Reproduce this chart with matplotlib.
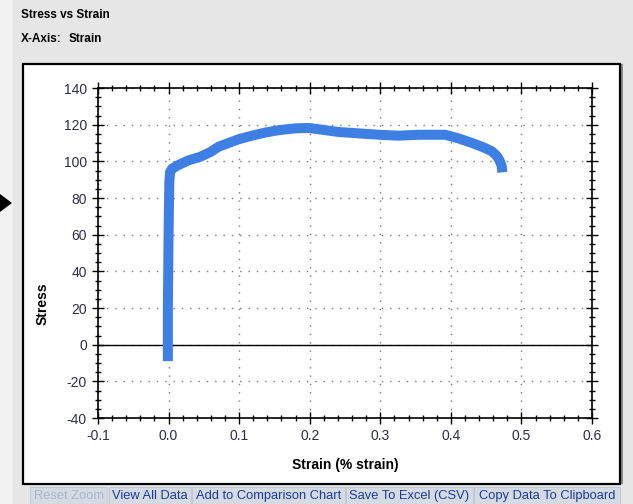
import matplotlib
matplotlib.use("Agg")
import matplotlib.pyplot as plt
from matplotlib.patches import Rectangle, Polygon
from matplotlib.ticker import MultipleLocator, FormatStrFormatter

plt.rcParams['font.family'] = ['Liberation Sans', 'DejaVu Sans']
plt.rcParams['axes.unicode_minus'] = False

# ---- data ----
strain = [-0.001, -0.001, 0.000, 0.001, 0.002, 0.005, 0.014, 0.028, 0.045, 0.059,
          0.071, 0.085, 0.099, 0.118, 0.137, 0.156, 0.180, 0.199, 0.222, 0.241,
          0.260, 0.298, 0.326, 0.355, 0.392, 0.411, 0.430, 0.447, 0.458, 0.465,
          0.469, 0.472, 0.473]
stress = [-9, 20, 60, 88, 94, 96, 98, 100.5, 102.5, 105,
          108, 110, 112, 114, 115.7, 117, 118, 118.2, 117, 116,
          115.5, 114.5, 114, 114.5, 114.5, 112.5, 110, 107.5, 105.5, 103,
          100.5, 97.5, 94]
x_ticks = [-0.1, 0.0, 0.1, 0.2, 0.3, 0.4, 0.5, 0.6]
y_ticks = [-40, -20, 0, 20, 40, 60, 80, 100, 120, 140]
buttons = ["Reset Zoom", "View All Data", "Add to Comparison Chart",
           "Save To Excel (CSV)", "Copy Data To Clipboard"]
button_x = [(30, 107), (109, 191), (192, 345), (346, 473), (474, 620)]

W, H = 633, 504
fig = plt.figure(figsize=(W / 100, H / 100), dpi=100)
fig.patch.set_facecolor('#f2f2f2')

def fx(px):
    return px / W

def fy(py):
    return 1 - py / H

# gray page background
fig.patches.append(Rectangle((fx(13), 0), 1 - fx(13), 1, transform=fig.transFigure,
                             facecolor='#e6e6e6', edgecolor='none', zorder=-10))
# white panel with border
fig.patches.append(Rectangle((fx(620), fy(484)), fx(3), fy(64) - fy(484), transform=fig.transFigure,
                             facecolor='#8a8a8a', edgecolor='none', zorder=-9))
fig.patches.append(Rectangle((fx(23), fy(484)), fx(597), fy(64) - fy(484), transform=fig.transFigure,
                             facecolor='white', edgecolor='black', linewidth=1.6, zorder=-8))
# arrow marker at left
fig.patches.append(Polygon([(fx(0), fy(194)), (fx(12), fy(203)), (fx(0), fy(212))],
                           closed=True, transform=fig.transFigure, facecolor='black',
                           edgecolor='none'))

# header texts
fig.text(fx(21), fy(15), "Stress vs Strain", fontsize=8.5, fontweight='bold',
         va='center', ha='left', color='black')
fig.text(fx(21), fy(39), "X-Axis:", fontsize=8.5, fontweight='bold',
         va='center', ha='left', color='black')
fig.text(fx(69), fy(39), "Strain", fontsize=8.5, fontweight='bold',
         va='center', ha='left', color='black')

# buttons
for i, (label, (x0, x1)) in enumerate(zip(buttons, button_x)):
    fig.patches.append(Rectangle((fx(x0), fy(504)), fx(x1 - x0), fy(487) - fy(504),
                                 transform=fig.transFigure, facecolor='#d5dbe3',
                                 edgecolor='#c3c9d2', linewidth=0.8))
    col = '#aab5cc' if i == 0 else '#1c3a9e'
    fig.text(fx((x0 + x1) / 2), fy(496), label, fontsize=9.3, color=col,
             ha='center', va='center')

# axes
ax = fig.add_axes([fx(98), fy(418), fx(592) - fx(98), fy(88) - fy(418)])
ax.set_facecolor('white')
ax.plot(strain, stress, color='#3d7fe3', linewidth=7.2, solid_capstyle='butt',
        solid_joinstyle='round', zorder=3)
ax.axhline(0, color='black', linewidth=1.0, zorder=2)

ax.set_xlim(-0.1, 0.6)
ax.set_ylim(-40, 140)
ax.set_xticks(x_ticks)
ax.set_yticks(y_ticks)
ax.xaxis.set_major_formatter(FormatStrFormatter('%.1f'))
ax.xaxis.set_minor_locator(MultipleLocator(0.02))
ax.yaxis.set_minor_locator(MultipleLocator(5))
ax.grid(True, which='major', linestyle=(0, (1, 5)), color='#777777', linewidth=1.0)
ax.set_axisbelow(True)

ax.tick_params(which='major', direction='inout', length=8, width=1.0,
               top=True, right=True, labelsize=10, labelcolor='#2d2d4a', pad=4)
ax.tick_params(which='minor', direction='inout', length=5, width=1.0,
               top=True, right=True)
for s in ax.spines.values():
    s.set_linewidth(1.2)
    s.set_color('black')

fig.text(fx(345), fy(465), "Strain (% strain)", fontsize=10, fontweight='bold',
         ha='center', va='center', color='black')
fig.text(fx(43), fy(304), "Stress", fontsize=10, fontweight='bold', rotation=90,
         ha='center', va='center', color='black')

fig.savefig("out.png", dpi=100)
